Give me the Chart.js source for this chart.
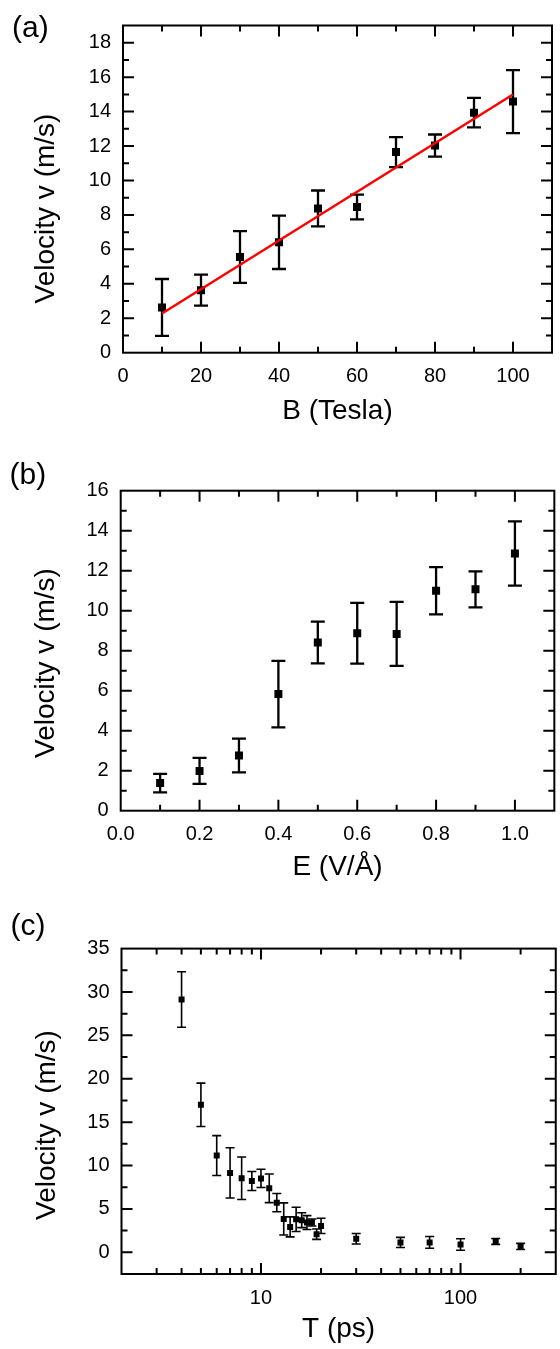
<!DOCTYPE html>
<html>
<head>
<meta charset="utf-8">
<script src="https://cdn.jsdelivr.net/npm/chart.js@4.4.0/dist/chart.umd.min.js"></script>
<style>
html,body{margin:0;padding:0;background:#fff;width:560px;height:1349px;overflow:hidden}
canvas{position:absolute;left:0}
</style>
</head>
<body>
<canvas id="ca" width="560" height="440" style="top:0px"></canvas>
<canvas id="cb" width="560" height="460" style="top:440px"></canvas>
<canvas id="cc" width="560" height="449" style="top:900px"></canvas>
<script>
// ---------- Panel (a): v vs B ----------
const bField = [10, 20, 30, 40, 50, 60, 70, 80, 90, 100];
const vB     = [2.63, 3.63, 5.56, 6.41, 8.38, 8.46, 11.65, 12.03, 13.94, 14.58];
const vBErr  = [1.65, 0.90, 1.50, 1.55, 1.04, 0.72, 0.87, 0.64, 0.86, 1.83];
const fitB   = [10, 100];
const fitV   = [2.28, 14.99];
const xTicksA = [0, 20, 40, 60, 80, 100];
const yTicksA = [0, 2, 4, 6, 8, 10, 12, 14, 16, 18];

// ---------- Panel (b): v vs E ----------
const eField = [0.1, 0.2, 0.3, 0.4, 0.5, 0.6, 0.7, 0.8, 0.9, 1.0];
const vE     = [1.38, 1.99, 2.76, 5.83, 8.41, 8.87, 8.84, 11.00, 11.07, 12.86];
const vEErr  = [0.46, 0.65, 0.84, 1.66, 1.04, 1.52, 1.60, 1.18, 0.90, 1.61];
const xTicksB = [0, 0.2, 0.4, 0.6, 0.8, 1.0];
const yTicksB = [0, 2, 4, 6, 8, 10, 12, 14, 16];

// ---------- Panel (c): v vs T ----------
const tPs   = [4, 5, 6, 7, 8, 9, 10, 11, 12, 13, 14, 15, 16, 17, 18, 19, 20, 30, 50, 70, 100, 150, 200];
const vT    = [29.14, 17.0, 11.15, 9.15, 8.54, 8.22, 8.52, 7.38, 5.72, 3.85, 2.93, 3.80, 3.70, 3.43, 3.43, 2.09, 3.04, 1.56, 1.14, 1.14, 0.90, 1.25, 0.68];
const vTErr = [3.20, 2.50, 2.30, 2.90, 2.45, 1.10, 1.05, 1.65, 1.05, 1.85, 1.15, 1.40, 0.85, 0.80, 0.40, 0.60, 0.88, 0.60, 0.58, 0.68, 0.66, 0.34, 0.35];
const xTicksC = [10, 100];
const yTicksC = [0, 5, 10, 15, 20, 25, 30, 35];

const FAMILY = "'Liberation Sans', Arial, Helvetica, sans-serif";
Chart.defaults.font.family = FAMILY;
Chart.defaults.color = '#000';

function pts(xs, ys) { return xs.map((x, i) => ({ x: x, y: ys[i] })); }

function range(a, b, step) { const r = []; for (let v = a; v <= b + 1e-9; v += step) r.push(+v.toFixed(6)); return r; }

function panelPlugin(p) {
  return {
    id: 'panel_' + p.label,
    beforeDatasetsDraw(chart) {
      const ctx = chart.ctx, xs = chart.scales.x, ys = chart.scales.y;
      ctx.save();
      ctx.strokeStyle = '#000';
      ctx.lineWidth = p.errWidth;
      chart.data.datasets.forEach(ds => {
        if (!ds.err) return;
        ds.data.forEach((pt, j) => {
          const e = ds.err[j];
          const x = xs.getPixelForValue(pt.x);
          const y1 = ys.getPixelForValue(pt.y + e), y2 = ys.getPixelForValue(pt.y - e);
          ctx.beginPath();
          ctx.moveTo(x, y1); ctx.lineTo(x, y2);
          ctx.moveTo(x - p.cap / 2, y1); ctx.lineTo(x + p.cap / 2, y1);
          ctx.moveTo(x - p.cap / 2, y2); ctx.lineTo(x + p.cap / 2, y2);
          ctx.stroke();
        });
      });
      ctx.restore();
    },
    afterDraw(chart) {
      const ctx = chart.ctx, xs = chart.scales.x, ys = chart.scales.y;
      const a = chart.chartArea;
      ctx.save();
      ctx.strokeStyle = '#000';
      ctx.lineWidth = 2;
      ctx.beginPath();
      const xt = (vals, len) => vals.forEach(v => {
        const x = xs.getPixelForValue(v);
        if (x <= a.left + 1 || x >= a.right - 1) return;
        ctx.moveTo(x, a.bottom); ctx.lineTo(x, a.bottom - len);
        ctx.moveTo(x, a.top); ctx.lineTo(x, a.top + len);
      });
      const yt = (vals, len) => vals.forEach(v => {
        const y = ys.getPixelForValue(v);
        if (y <= a.top + 1 || y >= a.bottom - 1) return;
        ctx.moveTo(a.left, y); ctx.lineTo(a.left + len, y);
        ctx.moveTo(a.right, y); ctx.lineTo(a.right - len, y);
      });
      xt(p.xMajor, 11); xt(p.xMinor, 6);
      yt(p.yMajor, 11); yt(p.yMinor, 6);
      ctx.stroke();
      ctx.strokeRect(a.left, a.top, a.right - a.left, a.bottom - a.top);
      // y-axis title
      ctx.fillStyle = '#000';
      ctx.font = '28px ' + FAMILY;
      ctx.save();
      ctx.translate(p.yTitleX, p.yTitleY);
      ctx.rotate(-Math.PI / 2);
      ctx.textAlign = 'center';
      ctx.textBaseline = 'middle';
      ctx.fillText('Velocity v (m/s)', 0, 0);
      ctx.restore();
      // panel label
      ctx.font = '30px ' + FAMILY;
      ctx.textAlign = 'left';
      ctx.textBaseline = 'alphabetic';
      ctx.fillText(p.label, p.labelX, p.labelY);
      ctx.restore();
    }
  };
}

function makeChart(id, p) {
  const datasets = [];
  if (p.fit) {
    datasets.push({
      type: 'line', data: p.fit, borderColor: '#ff0000', borderWidth: 2.5,
      pointRadius: 0, fill: false, tension: 0
    });
  }
  datasets.push({
    type: 'scatter', data: p.data, err: p.err,
    pointStyle: 'rect', pointRadius: p.marker / Math.SQRT2, pointBorderWidth: 0,
    backgroundColor: '#000', borderColor: '#000'
  });
  return new Chart(document.getElementById(id), {
    type: 'scatter',
    data: { datasets },
    options: {
      responsive: false, animation: false, events: [],
      layout: { padding: { left: 0, right: 560 - p.R, top: p.T, bottom: 0 } },
      plugins: { legend: { display: false }, tooltip: { enabled: false } },
      scales: {
        x: {
          type: p.xType, min: p.xMin, max: p.xMax, bounds: 'data',
          grid: { display: false, drawTicks: false }, border: { display: false },
          afterBuildTicks: s => { s.ticks = p.xLabels.map(v => ({ value: v })); },
          afterFit: s => { s.height = p.H - p.B; },
          ticks: {
            autoSkip: false, maxRotation: 0, padding: 12, font: { size: 20 }, color: '#000',
            callback: v => p.xFmt(v)
          },
          title: { display: true, text: p.xTitle, font: { size: 28 }, color: '#000', padding: { top: 0, bottom: p.xTitlePad } }
        },
        y: {
          type: 'linear', min: p.yMin, max: p.yMax, bounds: 'data',
          grid: { display: false, drawTicks: false }, border: { display: false },
          afterBuildTicks: s => { s.ticks = p.yLabels.map(v => ({ value: v })); },
          afterFit: s => { s.width = p.L; },
          ticks: { autoSkip: false, padding: 12, font: { size: 20 }, color: '#000', callback: v => String(v) },
          title: { display: false }
        }
      }
    },
    plugins: [panelPlugin(p)]
  });
}

makeChart('ca', {
  label: '(a)', labelX: 12, labelY: 36.7,
  H: 440, L: 123, R: 552, T: 25.5, B: 352.7,
  yTitleX: 46, yTitleY: 208.5, xTitlePad: 11.6,
  xType: 'linear', xMin: 0, xMax: 110, yMin: 0, yMax: 19,
  xLabels: xTicksA, yLabels: yTicksA, xFmt: v => String(v),
  xMajor: xTicksA, xMinor: range(10, 110, 20), yMajor: yTicksA, yMinor: range(1, 19, 2),
  xTitle: 'B (Tesla)',
  data: pts(bField, vB), err: vBErr, fit: pts(fitB, fitV),
  marker: 8, cap: 14, errWidth: 2.3
});

makeChart('cb', {
  label: '(b)', labelX: 9.5, labelY: 43.7,
  H: 460, L: 120.7, R: 555, T: 50.7, B: 370.7,
  yTitleX: 46.6, yTitleY: 223, xTitlePad: 15.9,
  xType: 'linear', xMin: 0, xMax: 1.1, yMin: 0, yMax: 16,
  xLabels: xTicksB, yLabels: yTicksB, xFmt: v => v.toFixed(1),
  xMajor: xTicksB, xMinor: range(0.1, 1.1, 0.2), yMajor: yTicksB, yMinor: range(1, 15, 2),
  xTitle: 'E (V/Å)',
  data: pts(eField, vE), err: vEErr,
  marker: 8, cap: 14, errWidth: 2.3
});

const logMinor = [];
[1, 10, 100].forEach(d => { for (let m = 2; m <= 9; m++) { const v = m * d; if (v > 2 && v < 300 && v !== 10 && v !== 100) logMinor.push(v); } });

makeChart('cc', {
  label: '(c)', labelX: 10.5, labelY: 34.7,
  H: 449, L: 121.5, R: 558.5, T: 48.6, B: 374,
  yTitleX: 47.6, yTitleY: 225, xTitlePad: 3.2,
  xType: 'logarithmic', xMin: 2, xMax: 300, yMin: -2.5, yMax: 35,
  xLabels: xTicksC, yLabels: yTicksC, xFmt: v => String(v),
  xMajor: xTicksC, xMinor: logMinor, yMajor: yTicksC, yMinor: range(2.5, 32.5, 5),
  xTitle: 'T (ps)',
  data: pts(tPs, vT), err: vTErr,
  marker: 6, cap: 9, errWidth: 1.6
});
</script>
</body>
</html>
